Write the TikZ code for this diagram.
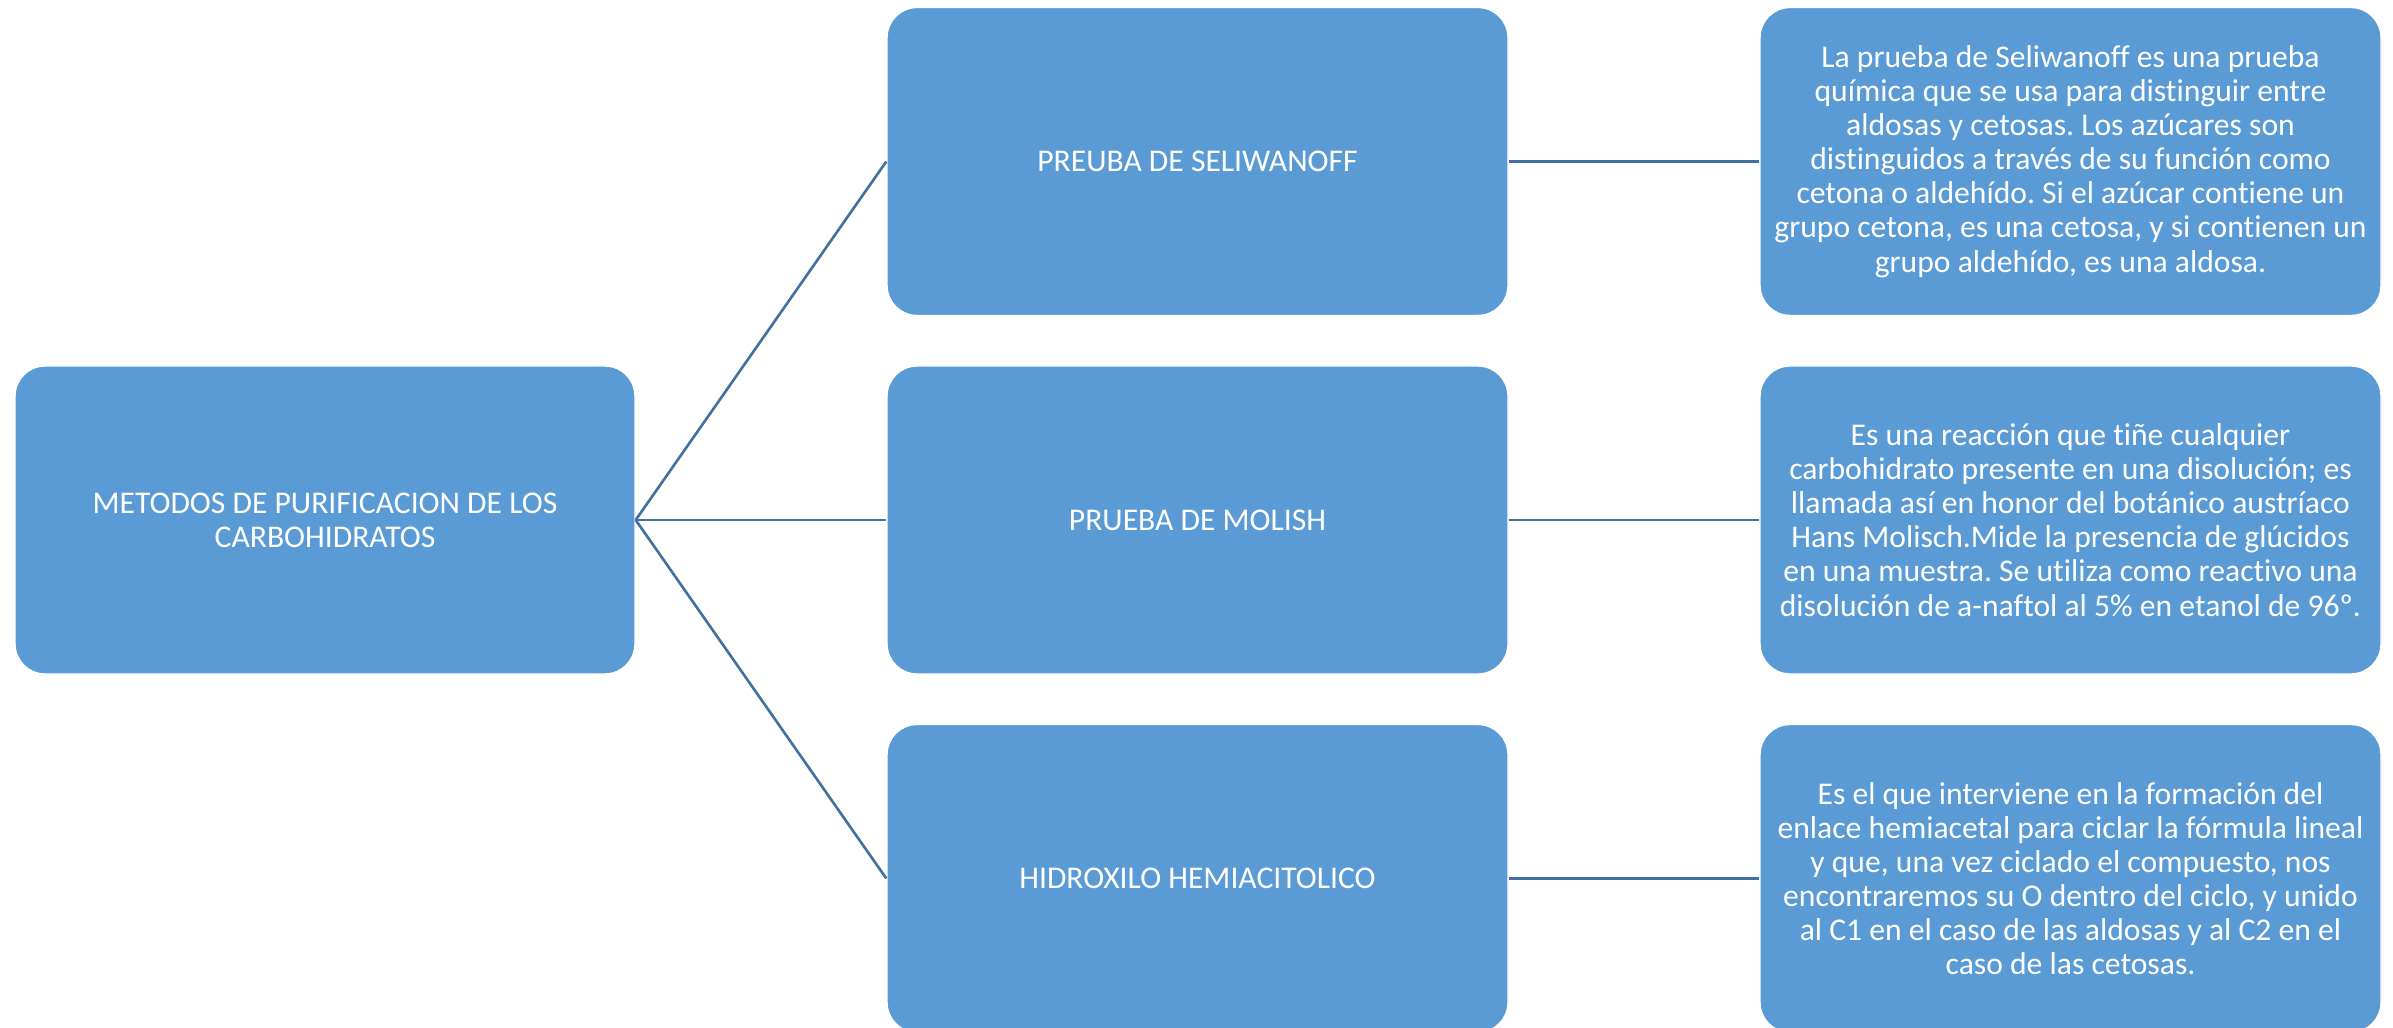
\documentclass[tikz,border=0pt]{standalone}
\usepackage{fontspec}
\setmainfont{Carlito}[RawFeature={-liga}]
\usepackage{tikz}
\definecolor{cajaazul}{HTML}{5B9BD5}
\definecolor{lineaazul}{HTML}{41719C}
\tikzset{
  caja/.style={draw=white,line width=0.4pt,fill=cajaazul,rounded corners=0.3cm,
    minimum width=6.21cm,minimum height=3.08cm,align=center,text=white,inner sep=0pt,
    font=\fontsize{9}{9.7}\selectfont},
  enlace/.style={draw=lineaazul,line width=0.75pt}
}
\frenchspacing
\begin{document}
\begin{tikzpicture}
\clip (0,0) rectangle (23.93,10.28);
% raiz
\node[caja,minimum width=6.20cm] (metodos) at (3.25,5.08) {METODOS DE PURIFICACION DE LOS\\CARBOHIDRATOS};
% metodos
\node[caja] (seliwanoff) at (11.975,8.665) {PREUBA DE SELIWANOFF};
\node[caja] (molish) at (11.975,5.08) {PRUEBA DE MOLISH};
\node[caja] (hidroxilo) at (11.975,1.495) {HIDROXILO HEMIACITOLICO};
% descripciones
\node[caja] (descsel) at (20.705,8.665) {La prueba de Seliwanoff es una prueba\\química que se usa para distinguir entre\\aldosas y cetosas. Los azúcares son\\distinguidos a través de su función como\\cetona o aldehído. Si el azúcar contiene un\\grupo cetona, es una cetosa, y si contienen un\\grupo aldehído, es una aldosa.};
\node[caja] (descmol) at (20.705,5.08) {Es una reacción que tiñe cualquier\\carbohidrato presente en una disolución; es\\llamada así en honor del botánico austríaco\\Hans Molisch.Mide la presencia de glúcidos\\en una muestra. Se utiliza como reactivo una\\disolución de a-naftol al 5\% en etanol de 96º.};
\node[caja] (deschid) at (20.705,1.495) {Es el que interviene en la formación del\\enlace hemiacetal para ciclar la fórmula lineal\\y que, una vez ciclado el compuesto, nos\\encontraremos su O dentro del ciclo, y unido\\al C1 en el caso de las aldosas y al C2 en el\\caso de las cetosas.};
% conectores
\draw[enlace] (metodos.east) -- (seliwanoff.west);
\draw[enlace] (metodos.east) -- (molish.west);
\draw[enlace] (metodos.east) -- (hidroxilo.west);
\draw[enlace] (seliwanoff.east) -- (descsel.west);
\draw[enlace] (molish.east) -- (descmol.west);
\draw[enlace] (hidroxilo.east) -- (deschid.west);
\end{tikzpicture}
\end{document}
